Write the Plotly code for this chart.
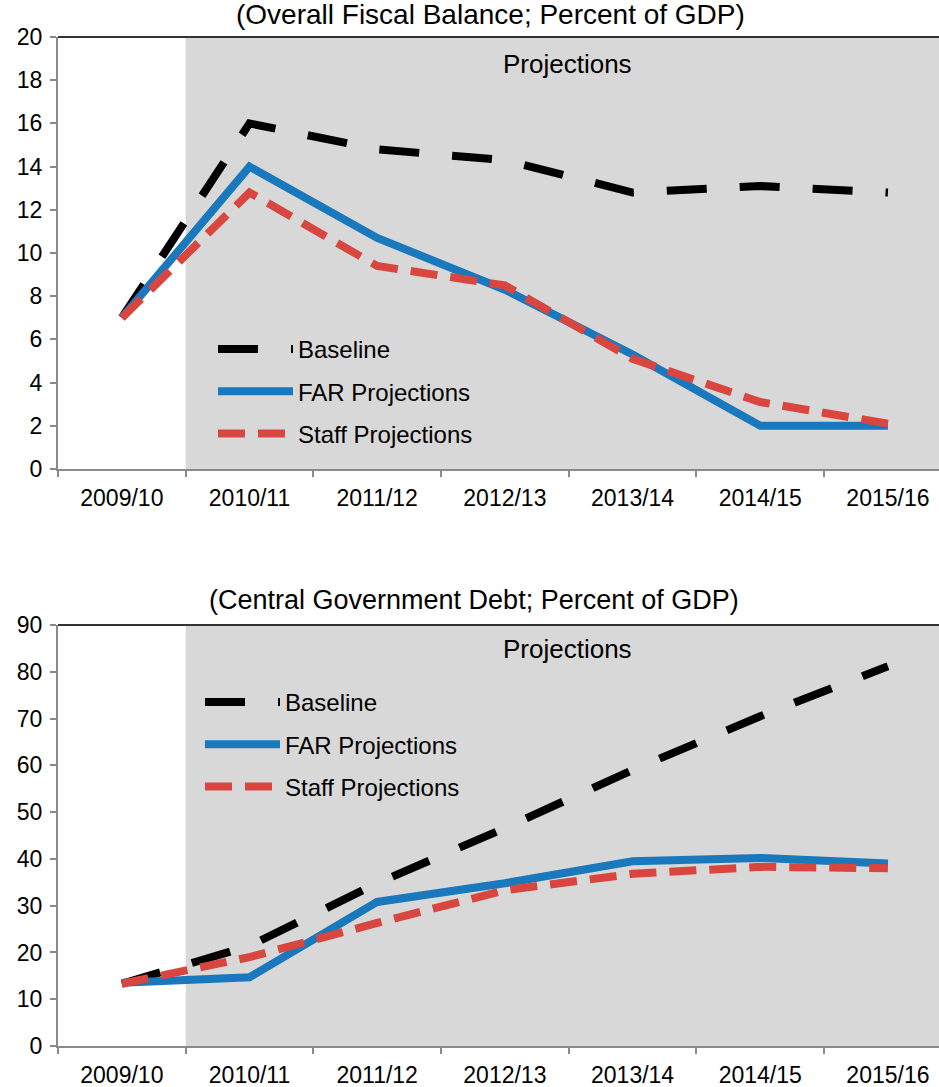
import plotly.graph_objects as go

# ---------------- data ----------------
years = ["2009/10", "2010/11", "2011/12", "2012/13", "2013/14", "2014/15", "2015/16"]
first_projection_year = "2010/11"

series_names = ["Baseline", "FAR Projections", "Staff Projections"]

balance_baseline = [7.0, 16.0, 14.8, 14.3, 12.8, 13.1, 12.8]
balance_far = [7.0, 14.0, 10.7, 8.3, 5.3, 2.0, 2.0]
balance_staff = [7.0, 12.8, 9.4, 8.5, 5.1, 3.1, 2.1]

debt_baseline = [13.3, 21.4, 34.8, 46.6, 59.0, 70.5, 81.2]
debt_far = [13.5, 14.7, 30.8, 34.8, 39.5, 40.2, 39.0]
debt_staff = [13.3, 19.0, 26.3, 33.3, 36.8, 38.3, 38.0]

title_top = "(Overall Fiscal Balance; Percent of GDP)"
title_bottom = "(Central Government Debt; Percent of GDP)"
projection_label = "Projections"

# ---------------- style ----------------
OFF = 0            # body margin removed via post_script
W, H = 939, 1087
FONT = "Liberation Sans, Arial, sans-serif"
TICK_FS = 23
PROJ_FS = 26
LEG_FS = 24
AXIS_GRAY = "#8a8a8a"
SHADE = "#d8d8d8"
styles = [
    dict(color="#000000", width=8, dash="40px,33px"),
    dict(color="#1a78bd", width=8, dash="solid"),
    dict(color="#d9463f", width=8, dash="27px,13px"),
]

x_max = len(years) - 1 + 0.4  # plot is clipped at the right edge
shade_start = years.index(first_projection_year) - 0.5


def px_x(p):
    return (p - OFF) / W


def px_y(p):
    return (H - (p - OFF)) / H


fig = go.Figure()

panels = [
    dict(xa="x", ya="y", legend="legend",
         data=[balance_baseline, balance_far, balance_staff]),
    dict(xa="x2", ya="y2", legend="legend2",
         data=[debt_baseline, debt_far, debt_staff]),
]

for pi, p in enumerate(panels):
    for si, (name, vals) in enumerate(zip(series_names, p["data"])):
        fig.add_trace(go.Scatter(
            x=years, y=vals, name=name, mode="lines",
            line=dict(**styles[si]),
            xaxis=p["xa"], yaxis=p["ya"], legend=p["legend"],
            legendgroup=f"{pi}-{si}",
            hoverinfo="skip",
        ))

axis_common = dict(
    showgrid=False, zeroline=False, showline=True, linecolor=AXIS_GRAY,
    linewidth=2, ticks="outside", ticklen=6, tickwidth=2, tickcolor=AXIS_GRAY,
    tickfont=dict(family=FONT, size=TICK_FS, color="#000000"),
    automargin=False,
)
xaxis_common = dict(**axis_common, type="category", categoryorder="array",
                    categoryarray=years, range=[-0.5, x_max],
                    tickson="boundaries", ticklabelstandoff=7,
                    domain=[px_x(58), 1.0])

leg_common = dict(xanchor="left", yanchor="top", bgcolor="rgba(0,0,0,0)",
                  tracegroupgap=8, itemwidth=75,
                  font=dict(family=FONT, size=LEG_FS, color="#000000"))

fig.update_layout(
    width=W, height=H,
    margin=dict(l=0, r=0, t=0, b=0, autoexpand=False),
    paper_bgcolor="white", plot_bgcolor="white",
    showlegend=True,
    xaxis=dict(**xaxis_common, anchor="y"),
    yaxis=dict(**axis_common, range=[0, 20], dtick=2, ticklabelstandoff=3,
               domain=[px_y(469), px_y(37)], anchor="x"),
    xaxis2=dict(**xaxis_common, anchor="y2"),
    yaxis2=dict(**axis_common, range=[0, 90], dtick=10, ticklabelstandoff=3,
                domain=[px_y(1046), px_y(625)], anchor="x2"),
    legend=dict(**leg_common, x=px_x(213), y=px_y(327)),
    legend2=dict(**leg_common, x=px_x(200), y=px_y(680)),
)

shapes = []
annotations = []
for xa, ya, title, tfs, ty, tx, py in [
    ("x", "y", title_top, 28, 15, 490, 64),
    ("x2", "y2", title_bottom, 27, 600, 474, 649),
]:
    shapes.append(dict(type="rect", xref=xa, yref=f"{ya} domain",
                       x0=shade_start, x1=x_max, y0=0, y1=1,
                       fillcolor=SHADE, line=dict(width=0), layer="below"))
    shapes.append(dict(type="line", xref=f"{xa} domain", yref=f"{ya} domain",
                       x0=0, x1=1, y0=1, y1=1,
                       line=dict(color="#333333", width=2)))
    annotations.append(dict(text=title, xref="paper", yref="paper",
                            x=px_x(tx), y=px_y(ty), showarrow=False,
                            xanchor="center", yanchor="middle",
                            font=dict(family=FONT, size=tfs, color="#000000")))
    annotations.append(dict(text=projection_label, xref="paper", yref="paper",
                            x=px_x(567), y=px_y(py), showarrow=False,
                            xanchor="center", yanchor="middle",
                            font=dict(family=FONT, size=PROJ_FS, color="#000000")))

fig.update_layout(shapes=shapes, annotations=annotations)

fig.write_html(
    "out.html",
    config={"displayModeBar": False},
    post_script="document.body.style.margin='0';document.body.style.overflow='hidden';",
)
